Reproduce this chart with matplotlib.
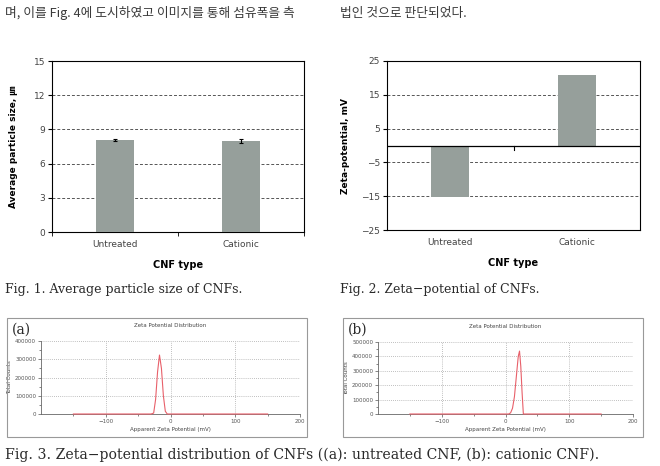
import matplotlib
matplotlib.use('Agg')
import matplotlib.pyplot as plt
from matplotlib.patches import Rectangle
import numpy as np

# Data ########################################################################
cnf_types = ['Untreated', 'Cationic']
particle_size = [8.1, 7.95]
particle_err = [0.1, 0.18]
zeta_mean = [-15.2, 20.8]

# zeta distribution (a): untreated
zeta_a_x = [-150, -30, -26, -23, -20, -17, -14, -11, -8, -5, 150]
zeta_a_y = [0, 0, 5000, 80000, 230000, 323000, 250000, 100000, 15000, 0, 0]
# zeta distribution (b): cationic
zeta_b_x = [-150, 5, 8, 11, 14, 17, 20, 22, 24, 26, 28, 150]
zeta_b_y = [0, 0, 8000, 40000, 120000, 260000, 400000, 437000, 330000,
            150000, 0, 0]

W, H = 660, 466
bar_color = '#969f9b'
txt_color = '#2a2a2a'
cap_font = 'DejaVu Serif'
kr_font = ['Noto Sans CJK KR', 'DejaVu Sans']

fig = plt.figure(figsize=(W / 100, H / 100), dpi=100)


def px(l, t, r, b):
    return [l / W, 1 - b / H, (r - l) / W, (b - t) / H]


def ftext(x, y, s, **kw):
    fig.text(x / W, 1 - y / H, s, **kw)


# top running text
ftext(5, 13, '며, 이를 Fig. 4에 도시하였고 이미지를 통해 섬유폭을 측',
      family=kr_font, fontsize=9.2, color='#3a3a3a', va='center')
ftext(340, 13, '법인 것으로 판단되었다.',
      family=kr_font, fontsize=9.2, color='#3a3a3a', va='center')

# Fig. 1 ######################################################################
ax1 = fig.add_axes(px(52, 61, 304, 232))
xpos = np.arange(len(cnf_types))
ax1.bar(xpos, particle_size, width=0.3, color=bar_color, zorder=3,
        yerr=particle_err, capsize=1.5, error_kw=dict(lw=0.8, capthick=0.8))
ax1.set_xlim(-0.5, 1.5)
ax1.set_ylim(0, 15)
ax1.set_yticks([0, 3, 6, 9, 12, 15])
for v in [3, 6, 9, 12]:
    ax1.axhline(v, color='#555555', lw=0.7, ls=(0, (3, 2)), zorder=1)
ax1.set_xticks(xpos)
ax1.set_xticklabels(cnf_types)
ax1.set_xticks([-0.5, 0.5, 1.5], minor=True)
ax1.tick_params(axis='x', which='major', length=0, pad=6)
ax1.tick_params(axis='x', which='minor', length=3, direction='out')
ax1.tick_params(axis='y', length=3, direction='out', pad=2)
ax1.tick_params(labelsize=6.5, labelcolor='#444444')
ax1.set_xlabel('CNF type', fontsize=7, fontweight='bold', labelpad=8)
ax1.set_ylabel('Average particle size, ㎛', fontsize=6.5, fontweight='bold',
               family=['DejaVu Sans', 'Noto Sans CJK KR'], labelpad=11)
for s in ax1.spines.values():
    s.set_linewidth(0.8)

# Fig. 2 ######################################################################
ax2 = fig.add_axes(px(387, 61, 640, 230))
ax2.bar(xpos, zeta_mean, width=0.3, color=bar_color, zorder=3)
ax2.set_xlim(-0.5, 1.5)
ax2.set_ylim(-25, 25)
ax2.set_yticks([-25, -15, -5, 5, 15, 25])
for v in [-15, -5, 5, 15]:
    ax2.axhline(v, color='#555555', lw=0.7, ls=(0, (3, 2)), zorder=1)
ax2.axhline(0, color='black', lw=0.9, zorder=4)
ax2.plot([0.5, 0.5], [0, -1.2], color='black', lw=0.8, zorder=4)
ax2.set_xticks(xpos)
ax2.set_xticklabels(cnf_types)
ax2.tick_params(axis='x', length=0, pad=6)
ax2.tick_params(axis='y', length=3, direction='out', pad=2)
ax2.tick_params(labelsize=6.5, labelcolor='#444444')
ax2.set_xlabel('CNF type', fontsize=7, fontweight='bold', labelpad=8)
ax2.set_ylabel('Zeta-potential, mV', fontsize=6.5, fontweight='bold',
               labelpad=8)
for s in ax2.spines.values():
    s.set_linewidth(0.8)

# captions
ftext(5, 290, 'Fig. 1. Average particle size of CNFs.', family=cap_font,
      fontsize=9.0, color=txt_color, va='center')
ftext(340, 290, 'Fig. 2. Zeta\u2212potential of CNFs.', family=cap_font,
      fontsize=9.0, color=txt_color, va='center')


# Fig. 3 ######################################################################
def zeta_panel(box, axbox, xs, ys, ymax, label):
    l, t, r, b = box
    fig.patches.append(Rectangle((l / W, 1 - b / H), (r - l) / W, (b - t) / H,
                                 transform=fig.transFigure, fill=False,
                                 ec='#999999', lw=0.8))
    ax = fig.add_axes(px(*axbox))
    ax.plot(xs, ys, color='#e8606a', lw=0.8, zorder=3, clip_on=False)
    ax.set_xlim(-200, 200)
    ax.set_ylim(0, ymax)
    ax.set_xticks([-100, 0, 100, 200])
    ax.set_xticks([-150, -50, 50, 150], minor=True)
    ax.set_yticks(np.arange(0, ymax + 1, 100000))
    ax.set_yticks(np.arange(0, ymax + 1, 50000), minor=True)
    ax.grid(True, which='major', color='#aaaaaa', lw=0.6, ls=(0, (1, 1.5)))
    ax.tick_params(which='both', direction='out', length=2, width=0.5,
                   labelsize=4, pad=1.5, colors='#555555')
    ax.tick_params(which='minor', length=1.5)
    ax.set_yticklabels([str(int(v)) for v in ax.get_yticks()])
    ax.set_xlabel('Apparent Zeta Potential (mV)', fontsize=4, labelpad=2,
                  color='#444444')
    ax.set_ylabel('Total Counts', fontsize=4, labelpad=2, color='#444444')
    ax.set_title('Zeta Potential Distribution', fontsize=4, pad=10,
                 color='#444444')
    ax.spines['top'].set_visible(False)
    ax.spines['right'].set_visible(False)
    ax.spines['left'].set_color('#666666')
    ax.spines['bottom'].set_color('#666666')
    ax.spines['left'].set_linewidth(0.6)
    ax.spines['bottom'].set_linewidth(0.6)
    ftext(l + 5, t + 12, label, family=cap_font, fontsize=10, color=txt_color,
          va='center')
    return ax


zeta_panel((7, 318, 307, 437), (41, 341, 300, 414), zeta_a_x, zeta_a_y,
           400000, '(a)')
zeta_panel((343, 318, 643, 437), (378, 342, 633, 414), zeta_b_x, zeta_b_y,
           500000, '(b)')

ftext(5, 455, 'Fig. 3. Zeta\u2212potential distribution of CNFs '
      '((a): untreated CNF, (b): cationic CNF).', family=cap_font,
      fontsize=10.1, color=txt_color, va='center')

fig.savefig('out.png', dpi=100, facecolor='white')
